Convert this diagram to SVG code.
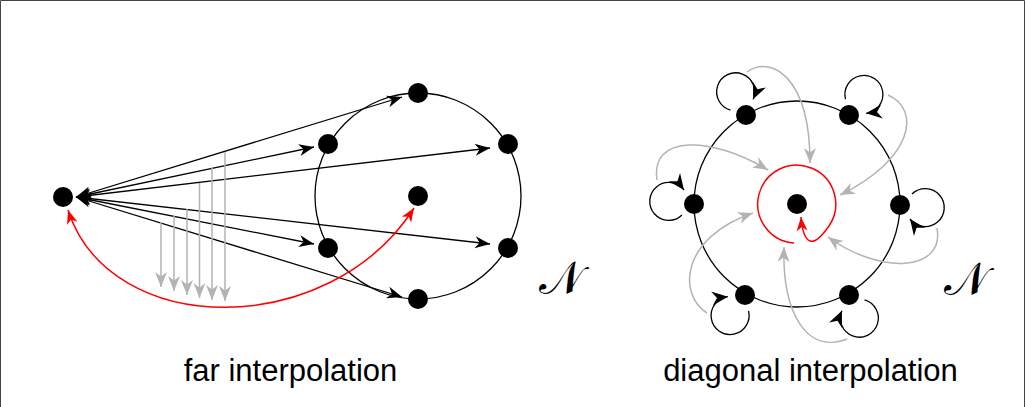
<svg xmlns="http://www.w3.org/2000/svg" width="1026" height="407" viewBox="0 0 1026 407">
<style>
.node{fill:#000}
.blk{fill:none;stroke:#000;stroke-width:1.3}
.gry{fill:none;stroke:#b3b3b3;stroke-width:1.5}
.red{fill:none;stroke:#f00;stroke-width:1.5}
.lbl{font-family:"Liberation Sans",Arial,sans-serif;font-size:31px;fill:#000;text-anchor:middle}
.cal{font-family:"DejaVu Serif","Noto Sans",serif;font-size:46px;fill:#000;text-anchor:middle}
</style>
<defs>
<marker id="ab" markerUnits="userSpaceOnUse" markerWidth="18" markerHeight="14" viewBox="-16 -7 18 14" refX="0" refY="0" orient="auto-start-reverse">
<path d="M0,0 L-15,-6 L-10.5,0 L-15,6 Z" fill="#000"/>
</marker>
<marker id="al" markerUnits="userSpaceOnUse" markerWidth="20" markerHeight="16" viewBox="-18 -8 20 16" refX="0" refY="0" orient="auto">
<path d="M0,0 L-16,-7 L-11,0 L-16,7 Z" fill="#000"/>
</marker>
<marker id="ag" markerUnits="userSpaceOnUse" markerWidth="18" markerHeight="14" viewBox="-16 -7 18 14" refX="0" refY="0" orient="auto-start-reverse">
<path d="M0,0 L-15,-6 L-10.5,0 L-15,6 Z" fill="#b3b3b3"/>
</marker>
<marker id="ar" markerUnits="userSpaceOnUse" markerWidth="18" markerHeight="14" viewBox="-16 -7 18 14" refX="0" refY="0" orient="auto-start-reverse">
<path d="M0,0 L-14,-5.5 L-10,0 L-14,5.5 Z" fill="#f00"/>
</marker>
</defs>
<rect width="1026" height="407" fill="#fff"/>
<path d="M0.5,407 V0.5 H1024.5 V407" fill="none" stroke="#444" stroke-width="1"/>

<!-- left diagram -->
<g id="ring-left"><circle cx="418" cy="196" r="103" class="blk"/></g>
<g id="connectors-left">
<line x1="76" y1="197" x2="402" y2="97" class="blk" marker-start="url(#ab)" marker-end="url(#ab)"/>
<line x1="76" y1="197" x2="314" y2="147" class="blk" marker-start="url(#ab)" marker-end="url(#ab)"/>
<line x1="76" y1="197" x2="490" y2="148" class="blk" marker-start="url(#ab)" marker-end="url(#ab)"/>
<line x1="76" y1="197" x2="490" y2="244" class="blk" marker-start="url(#ab)" marker-end="url(#ab)"/>
<line x1="76" y1="197" x2="314" y2="244" class="blk" marker-start="url(#ab)" marker-end="url(#ab)"/>
<line x1="76" y1="197" x2="402" y2="297" class="blk" marker-start="url(#ab)" marker-end="url(#ab)"/>
<line x1="161" y1="222" x2="161" y2="287" class="gry" marker-end="url(#ag)"/>
<line x1="174" y1="216" x2="174" y2="291" class="gry" marker-end="url(#ag)"/>
<line x1="187" y1="209" x2="187" y2="295" class="gry" marker-end="url(#ag)"/>
<line x1="199.5" y1="183" x2="199.5" y2="298" class="gry" marker-end="url(#ag)"/>
<line x1="212" y1="168" x2="212" y2="300" class="gry" marker-end="url(#ag)"/>
<line x1="225" y1="152" x2="225" y2="301" class="gry" marker-end="url(#ag)"/>
<path d="M68,210 C110,340 330,340 414,208" class="red" marker-start="url(#ar)" marker-end="url(#ar)"/>
</g>
<g id="src"><circle cx="63" cy="197" r="10" class="node"/></g>
<g id="l1"><circle cx="418" cy="93" r="10" class="node"/></g>
<g id="l2"><circle cx="508" cy="144" r="10" class="node"/></g>
<g id="l3"><circle cx="508" cy="248" r="10" class="node"/></g>
<g id="l4"><circle cx="418" cy="299" r="10" class="node"/></g>
<g id="l5"><circle cx="328" cy="248" r="10" class="node"/></g>
<g id="l6"><circle cx="328" cy="144" r="10" class="node"/></g>
<g id="lc"><circle cx="418" cy="196" r="10" class="node"/></g>
<text x="561" y="294" class="cal">𝒩</text>
<text x="290.5" y="381" class="lbl">far interpolation</text>

<!-- right diagram -->
<g id="ring-right"><circle cx="797" cy="204" r="103" class="blk"/></g>
<g id="connectors-right">
<path d="M747,72 C770,55 810,75 810,163" class="gry" marker-end="url(#ag)"/>
<path d="M657,180 C650,135 710,135 768,170" class="gry" marker-end="url(#ag)"/>
<path d="M888,95 C922,110 912,160 840,195" class="gry" marker-end="url(#ag)"/>
<path d="M937,228 C945,272 880,275 828,237" class="gry" marker-end="url(#ag)"/>
<path d="M847,339 C805,355 782,310 784,247" class="gry" marker-end="url(#ag)"/>
<path d="M707,313 C678,295 680,238 753,213" class="gry" marker-end="url(#ag)"/>
<path d="M794,243 A39,39 0 1 1 829,226 C822,236 815,243 810,241 C805,239 802,230 801,217" class="red" marker-end="url(#ar)"/>
<path d="M12,-11 A19,19 0 1 1 10,14" class="blk" marker-end="url(#al)" transform="translate(746,115) rotate(-120)"/>
<path d="M12,-11 A19,19 0 1 1 10,14" class="blk" marker-end="url(#al)" transform="translate(849,115) rotate(-60)"/>
<path d="M12,-11 A19,19 0 1 1 10,14" class="blk" marker-end="url(#al)" transform="translate(900,205)"/>
<path d="M12,-11 A19,19 0 1 1 10,14" class="blk" marker-end="url(#al)" transform="translate(849,295) rotate(60)"/>
<path d="M12,-11 A19,19 0 1 1 10,14" class="blk" marker-end="url(#al)" transform="translate(745,295) rotate(120)"/>
<path d="M12,-11 A19,19 0 1 1 10,14" class="blk" marker-end="url(#al)" transform="translate(694,204) rotate(180)"/>
</g>
<g id="r1"><circle cx="746" cy="115" r="10" class="node"/></g>
<g id="r2"><circle cx="849" cy="115" r="10" class="node"/></g>
<g id="r3"><circle cx="900" cy="205" r="10" class="node"/></g>
<g id="r4"><circle cx="849" cy="295" r="10" class="node"/></g>
<g id="r5"><circle cx="745" cy="295" r="10" class="node"/></g>
<g id="r6"><circle cx="694" cy="204" r="10" class="node"/></g>
<g id="rc"><circle cx="797" cy="204" r="10" class="node"/></g>
<text x="966" y="295" class="cal">𝒩</text>
<text x="810.5" y="381" class="lbl">diagonal interpolation</text>
</svg>
